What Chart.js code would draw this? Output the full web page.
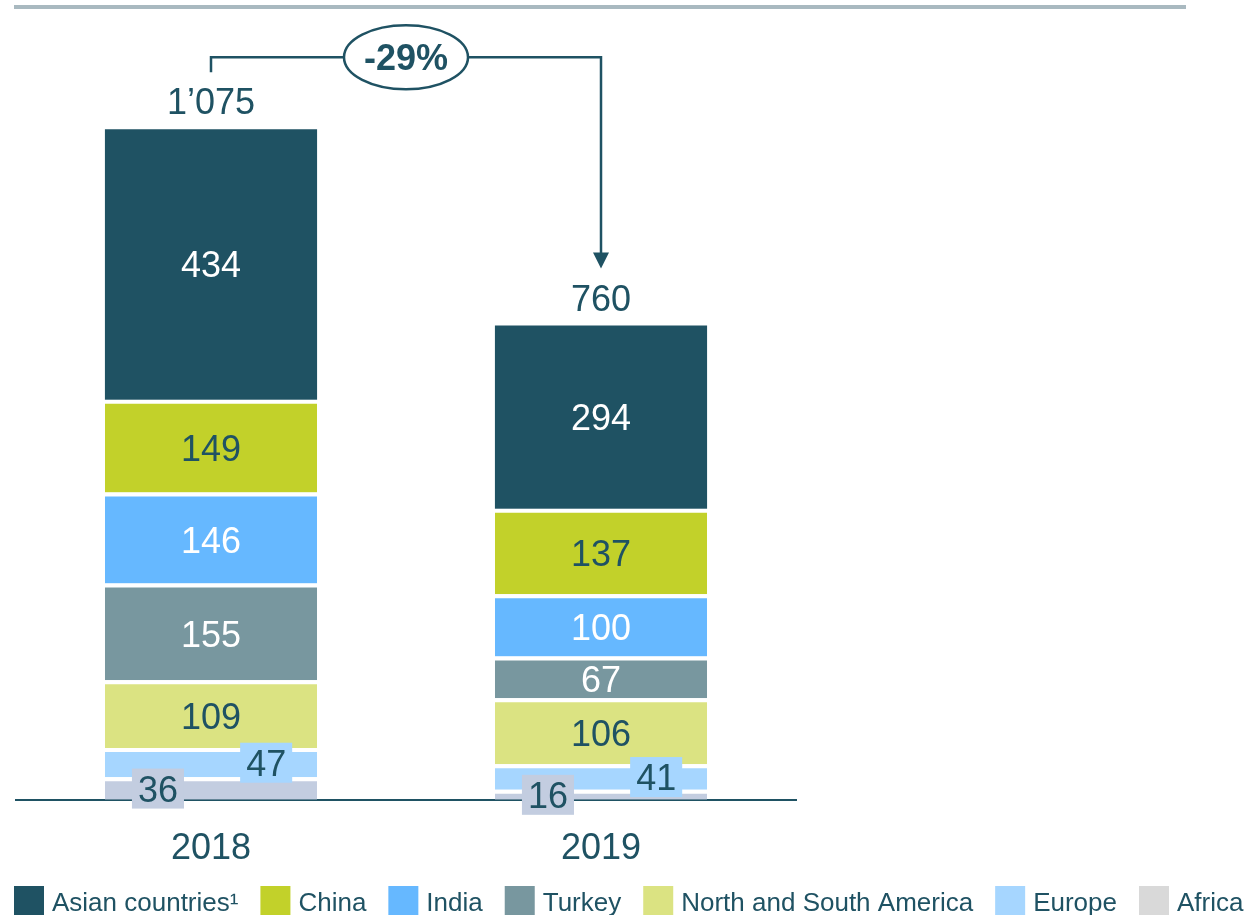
<!DOCTYPE html>
<html>
<head>
<meta charset="utf-8">
<script src="https://cdn.jsdelivr.net/npm/chart.js@4.4.1/dist/chart.umd.min.js"></script>
<style>
  html, body { margin: 0; padding: 0; background: #fff; }
  canvas { display: block; }
</style>
</head>
<body>
<canvas id="chart" width="1250" height="915"></canvas>
<script>
// values, stacked bottom -> top
const years = ['2018', '2019'];
const africa = [36, 16];
const europe = [47, 41];
const americas = [109, 106];
const turkey = [155, 67];
const india = [146, 100];
const china = [149, 137];
const asian = [434, 294];
const totals = ['1\u2019075', '760'];
const change = '-29%';

const dark = '#1F5263';
const font = "'Liberation Sans', Arial, sans-serif";

// styling per series (bar colour, legend colour, label colour, label placement)
const series = [
  { label: 'Africa', data: africa, color: '#C3CDE0', legend: '#D9D9D9', text: dark, place: -0.25 },
  { label: 'Europe', data: europe, color: '#A6D6FF', legend: '#A6D6FF', text: dark, place: 0.26 },
  { label: 'North and South America', data: americas, color: '#DBE382', legend: '#DBE382', text: dark },
  { label: 'Turkey', data: turkey, color: '#78979F', legend: '#78979F', text: '#fff' },
  { label: 'India', data: india, color: '#66B8FF', legend: '#66B8FF', text: '#fff' },
  { label: 'China', data: china, color: '#C2D12A', legend: '#C2D12A', text: dark },
  { label: 'Asian countries\u00B9', data: asian, color: '#1F5263', legend: '#1F5263', text: '#fff' }
];

const gap = 4;

const datasets = series.map((s, i) => ({
  label: s.label,
  data: s.data,
  backgroundColor: s.color,
  borderColor: '#fff',
  borderWidth: { top: i === series.length - 1 ? 0 : gap, bottom: 0, left: 0, right: 0 },
  borderSkipped: false,
  categoryPercentage: 1,
  barPercentage: 0.544
}));

const overlay = {
  id: 'overlay',
  afterDatasetsDraw(chart) {
    const ctx = chart.ctx;
    ctx.save();

    // segment labels
    chart.data.datasets.forEach((ds, di) => {
      const s = series[di];
      const meta = chart.getDatasetMeta(di);
      meta.data.forEach((bar, i) => {
        const txt = String(ds.data[i]);
        ctx.font = '36px ' + font;
        ctx.textAlign = 'center';
        ctx.textBaseline = 'alphabetic';
        if (s.place !== undefined) {
          const cx = bar.x + bar.width * s.place;
          const cy = (bar.y + bar.base) / 2;
          const w = ctx.measureText(txt).width + 12;
          const h = 40;
          ctx.fillStyle = s.color;
          ctx.fillRect(cx - w / 2, cy - h / 2, w, h);
          ctx.fillStyle = s.text;
          ctx.fillText(txt, cx, cy + 13);
        } else {
          const top = bar.y + (di === series.length - 1 ? 0 : gap);
          const cy = (top + bar.base) / 2;
          ctx.fillStyle = s.text;
          ctx.fillText(txt, bar.x, cy + 13);
        }
      });
    });

    // totals above bars
    const topMeta = chart.getDatasetMeta(series.length - 1);
    ctx.fillStyle = dark;
    ctx.font = '36px ' + font;
    ctx.textAlign = 'center';
    topMeta.data.forEach((bar, i) => {
      ctx.fillText(totals[i], bar.x, bar.y - 28 + 13);
    });

    // change arrow
    const b0 = topMeta.data[0], b1 = topMeta.data[1];
    const lineY = b0.y - 72;
    const midX = (b0.x + b1.x) / 2;
    const rx = 62, ry = 32;
    const tipY = b1.y - 57;
    ctx.strokeStyle = dark;
    ctx.lineWidth = 2.5;
    ctx.beginPath();
    ctx.moveTo(b0.x, b0.y - 57);
    ctx.lineTo(b0.x, lineY);
    ctx.lineTo(midX - rx, lineY);
    ctx.moveTo(midX + rx, lineY);
    ctx.lineTo(b1.x, lineY);
    ctx.lineTo(b1.x, tipY - 14);
    ctx.stroke();
    ctx.fillStyle = dark;
    ctx.beginPath();
    ctx.moveTo(b1.x - 8, tipY - 16);
    ctx.lineTo(b1.x + 8, tipY - 16);
    ctx.lineTo(b1.x, tipY);
    ctx.closePath();
    ctx.fill();
    ctx.beginPath();
    ctx.ellipse(midX, lineY, rx, ry, 0, 0, Math.PI * 2);
    ctx.fillStyle = '#fff';
    ctx.fill();
    ctx.stroke();
    ctx.fillStyle = dark;
    ctx.font = 'bold 36px ' + font;
    ctx.fillText(change, midX, lineY + 13);

    ctx.restore();
  },
  afterDraw(chart) {
    const ctx = chart.ctx;
    ctx.save();
    // top rule
    ctx.fillStyle = '#A9B9C0';
    ctx.fillRect(14, 5, 1172, 4);

    // legend row
    ctx.font = '26px ' + font;
    ctx.textAlign = 'left';
    ctx.textBaseline = 'alphabetic';
    let x = 14;
    for (let i = series.length - 1; i >= 0; i--) {
      const s = series[i];
      ctx.fillStyle = s.legend;
      ctx.fillRect(x, 886, 30, 29);
      x += 38;
      ctx.fillStyle = dark;
      ctx.fillText(s.label, x, 911);
      x += ctx.measureText(s.label).width + 22;
    }
    ctx.restore();
  }
};

new Chart(document.getElementById('chart'), {
  type: 'bar',
  data: { labels: years, datasets },
  options: {
    responsive: false,
    animation: false,
    devicePixelRatio: 1,
    layout: { padding: { left: 16, right: 454, top: 52, bottom: 16 } },
    plugins: { legend: { display: false }, tooltip: { enabled: false } },
    scales: {
      x: {
        stacked: true,
        grid: { display: false, drawTicks: false },
        border: { display: true, color: dark, width: 2 },
        ticks: { color: dark, font: { size: 36, family: font }, padding: 28 }
      },
      y: {
        stacked: true,
        display: false,
        min: 0,
        max: 1200
      }
    }
  },
  plugins: [overlay]
});
</script>
</body>
</html>
